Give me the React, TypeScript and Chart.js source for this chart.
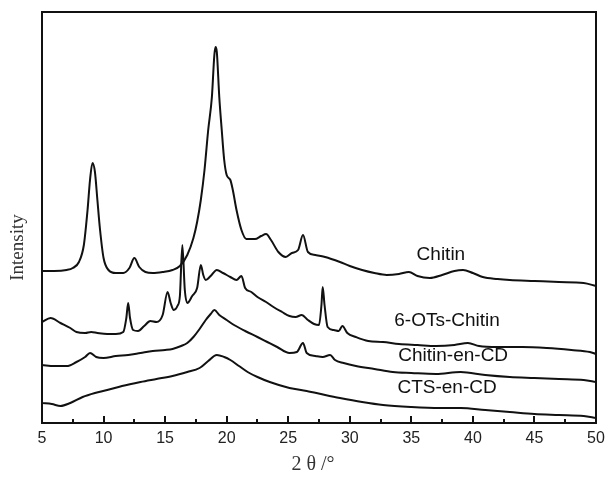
import React, { useEffect, useRef } from "react";
import { Chart, registerables } from "chart.js";

Chart.register(...registerables);

// ---- data (2θ in degrees, intensity in arbitrary units) ----
const chitinX = [5.0, 6.0, 7.0, 7.5, 8.0, 8.4, 8.7, 8.9, 9.1, 9.3, 9.5, 9.7, 10.0, 10.4, 11.0, 11.6, 12.1, 12.5, 12.9, 13.4, 14.0, 14.8, 15.6, 16.2, 16.8, 17.3, 17.6, 17.9, 18.2, 18.5, 18.8, 19.0, 19.1, 19.2, 19.4, 19.6, 19.8, 20.0, 20.3, 20.5, 20.8, 21.2, 21.6, 22.3, 22.8, 23.2, 23.6, 24.2, 24.8, 25.3, 25.8, 26.2, 26.6, 27.2, 28.0, 29.2, 30.0, 31.0, 32.0, 33.0, 34.0, 34.8, 35.5, 36.5, 37.5, 38.5, 39.2, 40.0, 40.8, 42.0, 43.0, 45.0, 47.0, 49.0, 50.0];
const chitinY = [152, 152, 153, 155, 161, 178, 213, 243, 260, 251, 223, 195, 165, 153, 150, 150, 155, 165, 156, 151, 150, 151, 153, 157, 168, 185, 201, 223, 253, 293, 326, 368, 376, 371, 326, 293, 263, 248, 243, 233, 213, 193, 184, 184, 187, 189, 183, 171, 166, 170, 173, 188, 171, 168, 166, 161, 157, 153, 150, 148, 149, 151, 147, 145, 148, 152, 153, 150, 146, 144, 143, 142, 141, 140, 137];

const otsX = [5.0, 5.7, 6.5, 7.3, 7.8, 8.5, 9.0, 9.5, 10.3, 11.0, 11.6, 11.85, 12.0, 12.15, 12.4, 12.8, 13.3, 13.8, 14.3, 14.8, 15.2, 15.45, 15.7, 16.0, 16.2, 16.4, 16.6, 16.8, 17.2, 17.6, 17.9, 18.1, 18.3, 18.7, 19.2, 19.7, 20.3, 20.8, 21.2, 21.5, 22.0, 22.5, 23.2, 23.8, 24.5, 25.1, 25.6, 26.1, 26.6, 27.1, 27.5, 27.7, 27.8, 27.95, 28.2, 28.7, 29.1, 29.4, 29.8, 30.5, 31.5, 32.7, 34.0, 35.5, 37.0, 38.5, 39.6, 40.5, 42.0, 44.0, 46.0, 48.0, 49.5, 50.0];
const otsY = [101, 105, 100, 95, 91, 90, 91, 90, 89, 89, 91, 105, 120, 105, 93, 92, 97, 102, 101, 108, 131, 120, 113, 117, 127, 178, 133, 120, 127, 135, 158, 148, 143, 147, 153, 150, 146, 143, 147, 135, 131, 126, 121, 116, 111, 107, 106, 108, 103, 99, 98, 118, 136, 118, 96, 93, 92, 97, 90, 86, 82, 81, 79, 78, 77, 78, 80, 77, 76, 76, 75, 73, 71, 69];

const enCdX = [5.0, 6.0, 7.0, 7.8, 8.5, 8.9, 9.4, 10.0, 11.0, 12.0, 13.0, 14.0, 15.0, 15.6, 16.3, 16.8, 17.3, 17.8, 18.3, 18.7, 19.0, 19.4, 20.0, 20.6, 21.5, 22.5, 23.3, 24.1, 25.1, 25.7, 26.2, 26.5, 27.2, 27.8, 28.4, 28.8, 29.5, 30.5, 32.0, 33.5, 35.0, 37.0, 39.0, 41.0, 43.0, 45.0, 47.0, 49.0, 50.0];
const enCdY = [58, 57, 57, 61, 66, 70, 66, 65, 67, 68, 70, 72, 73, 74, 77, 80, 86, 94, 103, 109, 113, 108, 103, 98, 92, 86, 81, 76, 70, 71, 80, 70, 67, 66, 68, 63, 60, 57, 54, 51, 50, 49, 51, 48, 46, 45, 44, 43, 41];

const ctsX = [5.0, 5.8, 6.5, 7.3, 8.3, 9.3, 10.3, 11.5, 13.0, 14.3, 15.6, 16.8, 17.8, 18.5, 19.2, 19.8, 20.3, 21.0, 21.7, 22.5, 23.5, 25.1, 26.5, 28.0, 29.2, 31.0, 32.7, 35.0, 37.3, 39.0, 41.0, 43.0, 45.0, 47.0, 49.0, 50.0];
const ctsY = [20, 19, 17, 20, 26, 30, 33, 37, 41, 44, 47, 51, 55, 62, 68, 66, 63, 57, 51, 46, 41, 35, 32, 28, 25, 21, 18, 16, 15, 15, 13, 11, 9, 8, 7, 5];

const seriesNames = ["Chitin", "6-OTs-Chitin", "Chitin-en-CD", "CTS-en-CD"];
const labelX = [37.4, 37.9, 38.4, 37.9];
const labelY = [168, 102, 67, 35];

const xMin = 5;
const xMax = 50;
const xStep = 2.5;
const yMin = 0;
const yMax = 411;
const xTitle = "2 θ /°";
const yTitle = "Intensity";

const toPoints = (xs: number[], ys: number[]) => xs.map((x, i) => ({ x, y: ys[i] }));

const decorPlugin = {
  id: "decor",
  afterDraw(chart: any) {
    const { ctx, chartArea: a, scales } = chart;
    const x = scales.x;
    const y = scales.y;
    ctx.save();
    // frame
    ctx.strokeStyle = "#111";
    ctx.lineWidth = 2;
    ctx.strokeRect(a.left, a.top, a.right - a.left, a.bottom - a.top);
    // inward ticks on bottom axis
    ctx.beginPath();
    x.ticks.forEach((t: any) => {
      const px = Math.round(x.getPixelForValue(t.value));
      const major = Math.abs(t.value % 5) < 1e-6;
      ctx.moveTo(px, a.bottom);
      ctx.lineTo(px, a.bottom - (major ? 7 : 4));
    });
    ctx.stroke();
    // series labels
    ctx.fillStyle = "#111";
    ctx.font = '19px "Liberation Sans", Arial, sans-serif';
    ctx.textAlign = "center";
    ctx.textBaseline = "middle";
    seriesNames.forEach((name, i) => {
      ctx.fillText(name, x.getPixelForValue(labelX[i]), y.getPixelForValue(labelY[i]));
    });
    // x title
    ctx.font = '20px "Liberation Serif", serif';
    ctx.fillStyle = "#333";
    ctx.fillText(xTitle, (a.left + a.right) / 2 - 6, 465);
    // y title
    ctx.translate(18, (a.top + a.bottom) / 2 + 30);
    ctx.rotate(-Math.PI / 2);
    ctx.font = '19px "Liberation Serif", serif';
    ctx.fillText(yTitle, 0, 0);
    ctx.restore();
  },
};

export default function App() {
  const ref = useRef<HTMLCanvasElement | null>(null);
  useEffect(() => {
    if (!ref.current) return;
    const mk = (xs: number[], ys: number[]) => ({
      data: toPoints(xs, ys),
      borderColor: "#111",
      borderWidth: 2,
      pointRadius: 0,
      cubicInterpolationMode: "monotone" as const,
      fill: false,
    });
    const chart = new Chart(ref.current, {
      type: "line",
      data: {
        datasets: [
          { label: seriesNames[0], ...mk(chitinX, chitinY) },
          { label: seriesNames[1], ...mk(otsX, otsY) },
          { label: seriesNames[2], ...mk(enCdX, enCdY) },
          { label: seriesNames[3], ...mk(ctsX, ctsY) },
        ],
      },
      options: {
        animation: false,
        responsive: false,
        layout: { padding: { left: 42, right: 9, top: 12, bottom: 0 } },
        plugins: { legend: { display: false }, tooltip: { enabled: false } },
        scales: {
          x: {
            type: "linear",
            min: xMin,
            max: xMax,
            border: { display: false },
            grid: { display: false, drawTicks: false },
            ticks: {
              stepSize: xStep,
              autoSkip: false,
              maxRotation: 0,
              padding: 6,
              color: "#222",
              font: { family: '"Liberation Sans", Arial, sans-serif', size: 16 },
              callback: (v: any) => (Math.abs(Number(v) % 5) < 1e-6 ? String(v) : ""),
            },
            afterFit: (s: any) => {
              s.height = 55;
              s.paddingLeft = 0;
              s.paddingRight = 0;
            },
          },
          y: {
            display: false,
            min: yMin,
            max: yMax,
          },
        },
      },
      plugins: [decorPlugin],
    });
    return () => chart.destroy();
  }, []);
  return (
    <div style={{ position: "fixed", left: 0, top: 0, width: 605, height: 478, background: "#fff" }}>
      <canvas ref={ref} width={605} height={478} />
    </div>
  );
}
